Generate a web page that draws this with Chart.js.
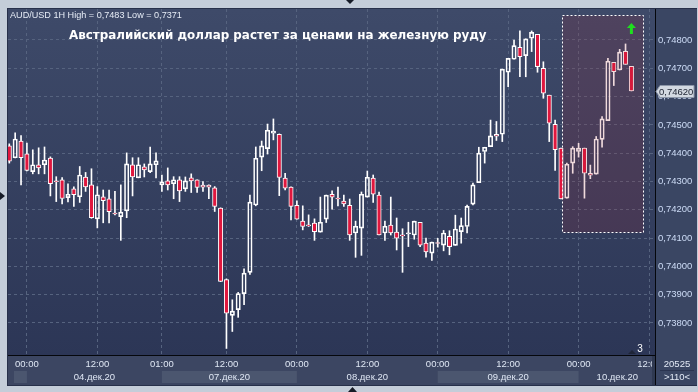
<!DOCTYPE html>
<html>
<head>
<meta charset="utf-8">
<script src="https://cdn.jsdelivr.net/npm/chart.js@4.4.0/dist/chart.umd.min.js"></script>
<style>
  html, body { margin: 0; padding: 0; background: #c4cdd9; }
  canvas { display: block; }
</style>
</head>
<body>
<canvas id="chartCanvas" width="698" height="392"></canvas>
<script>
// AUD/USD, 1H candles, 03.12 21:00 .. 10.12 09:00
const opens = [
  0.74426, 0.74384, 0.74443, 0.74398, 0.74335, 0.74359, 0.74359, 0.74383, 0.74301, 0.74306,
  0.74243, 0.74274, 0.74246, 0.74316, 0.74288, 0.74168, 0.74246, 0.74239, 0.74187, 0.74176,
  0.74196, 0.74359, 0.74313, 0.74352, 0.74335, 0.74359, 0.74288, 0.74302, 0.74292, 0.74306,
  0.74274, 0.74313, 0.74306, 0.74287, 0.74287, 0.74278, 0.74206, 0.73953, 0.73827, 0.73847,
  0.73904, 0.73979, 0.74217, 0.74386, 0.74416, 0.74471, 0.74467, 0.74312, 0.74280, 0.74216,
  0.74160, 0.74144, 0.74153, 0.74121, 0.74167, 0.74255, 0.74239, 0.74231, 0.74216, 0.74118,
  0.74135, 0.74245, 0.74312, 0.74252, 0.74118, 0.74146, 0.74121, 0.74110, 0.74115, 0.74111,
  0.74156, 0.74082, 0.74047, 0.74083, 0.74075, 0.74106, 0.74074, 0.74123, 0.74141, 0.74220,
  0.74296, 0.74406, 0.74423, 0.74467, 0.74467, 0.74686, 0.74732, 0.74774, 0.74745, 0.74806,
  0.74820, 0.74700, 0.74605, 0.74502, 0.74418, 0.74241, 0.74365, 0.74406, 0.74418, 0.74329,
  0.74326, 0.74449, 0.74515, 0.74721, 0.74694, 0.74760, 0.74707
];
const highs = [
  0.74433, 0.74472, 0.74462, 0.74436, 0.74412, 0.74419, 0.74422, 0.74387, 0.74317, 0.74314,
  0.74292, 0.74281, 0.74353, 0.74332, 0.74345, 0.74282, 0.74270, 0.74270, 0.74265, 0.74288,
  0.74401, 0.74384, 0.74384, 0.74362, 0.74422, 0.74401, 0.74323, 0.74348, 0.74317, 0.74317,
  0.74316, 0.74327, 0.74306, 0.74300, 0.74288, 0.74282, 0.74207, 0.73956, 0.73882, 0.73908,
  0.73991, 0.74252, 0.74422, 0.74443, 0.74503, 0.74521, 0.74468, 0.74329, 0.74281, 0.74232,
  0.74214, 0.74182, 0.74168, 0.74245, 0.74252, 0.74267, 0.74280, 0.74252, 0.74238, 0.74160,
  0.74263, 0.74337, 0.74323, 0.74263, 0.74160, 0.74245, 0.74171, 0.74133, 0.74156, 0.74160,
  0.74156, 0.74100, 0.74086, 0.74099, 0.74127, 0.74126, 0.74181, 0.74171, 0.74217, 0.74294,
  0.74421, 0.74421, 0.74517, 0.74512, 0.74697, 0.74735, 0.74800, 0.74832, 0.74804, 0.74832,
  0.74820, 0.74723, 0.74605, 0.74517, 0.74418, 0.74365, 0.74423, 0.74435, 0.74418, 0.74358,
  0.74459, 0.74529, 0.74735, 0.74721, 0.74767, 0.74786, 0.74707
];
const lows = [
  0.74365, 0.74383, 0.74288, 0.74337, 0.74327, 0.74327, 0.74327, 0.74249, 0.74229, 0.74221,
  0.74228, 0.74212, 0.74226, 0.74265, 0.74170, 0.74136, 0.74154, 0.74154, 0.74182, 0.74092,
  0.74172, 0.74249, 0.74313, 0.74316, 0.74331, 0.74313, 0.74265, 0.74270, 0.74239, 0.74229,
  0.74265, 0.74261, 0.74261, 0.74265, 0.74239, 0.74194, 0.73946, 0.73710, 0.73770, 0.73820,
  0.73865, 0.73972, 0.74214, 0.74338, 0.74397, 0.74447, 0.74250, 0.74270, 0.74164, 0.74167,
  0.74129, 0.74141, 0.74092, 0.74121, 0.74155, 0.74202, 0.74214, 0.74212, 0.74092, 0.74032,
  0.74039, 0.74245, 0.74226, 0.74111, 0.74092, 0.74111, 0.74058, 0.73979, 0.74070, 0.74096,
  0.74070, 0.74033, 0.74021, 0.74068, 0.74055, 0.74041, 0.74074, 0.74082, 0.74118, 0.74217,
  0.74296, 0.74365, 0.74423, 0.74445, 0.74441, 0.74635, 0.74732, 0.74670, 0.74670, 0.74759,
  0.74686, 0.74594, 0.74441, 0.74339, 0.74238, 0.74241, 0.74329, 0.74386, 0.74241, 0.74310,
  0.74326, 0.74421, 0.74515, 0.74639, 0.74694, 0.74714, 0.74620
];
const closes = [
  0.74372, 0.74450, 0.74384, 0.74339, 0.74359, 0.74348, 0.74376, 0.74292, 0.74299, 0.74240,
  0.74255, 0.74253, 0.74323, 0.74281, 0.74172, 0.74253, 0.74232, 0.74193, 0.74185, 0.74192,
  0.74362, 0.74316, 0.74359, 0.74341, 0.74362, 0.74373, 0.74299, 0.74288, 0.74306, 0.74267,
  0.74302, 0.74302, 0.74279, 0.74280, 0.74280, 0.74212, 0.73947, 0.73835, 0.73842, 0.73904,
  0.73976, 0.74227, 0.74382, 0.74426, 0.74481, 0.74478, 0.74314, 0.74276, 0.74212, 0.74167,
  0.74141, 0.74143, 0.74123, 0.74156, 0.74252, 0.74245, 0.74238, 0.74221, 0.74111, 0.74142,
  0.74255, 0.74315, 0.74255, 0.74111, 0.74142, 0.74118, 0.74100, 0.74108, 0.74119, 0.74160,
  0.74075, 0.74051, 0.74086, 0.74081, 0.74118, 0.74070, 0.74132, 0.74144, 0.74212, 0.74288,
  0.74400, 0.74421, 0.74461, 0.74460, 0.74697, 0.74735, 0.74780, 0.74741, 0.74804, 0.74827,
  0.74706, 0.74612, 0.74506, 0.74412, 0.74238, 0.74361, 0.74418, 0.74418, 0.74329, 0.74322,
  0.74450, 0.74521, 0.74725, 0.74688, 0.74757, 0.74714, 0.74620
];

// axis labels (x values are bar numbers, 1 = first visible hour)
const timeSlots = [4, 16, 27, 38, 50, 62, 74, 86, 98, 110];
const timeLabels = ['00:00', '12:00', '01:00', '12:00', '00:00', '12:00', '00:00', '12:00', '00:00', '12:00'];
const dayStartSlots = [0, 4, 27, 50, 74, 98];
const dayLabels = ['03.дек.20', '04.дек.20', '07.дек.20', '08.дек.20', '09.дек.20', '10.дек.20'];
const priceTicks = [0.738, 0.739, 0.740, 0.741, 0.742, 0.743, 0.744, 0.745, 0.746, 0.747, 0.748];

const infoText = 'AUD/USD 1H High = 0,7483 Low = 0,7371';
const titleText = 'Австралийский доллар растет за ценами на железную руду';
const barsCount = '20525';
const zoomText = '>110<';

// marked zone on the right and the signal arrow
const zone = { fromSlot: 95.1, toSlot: 109.05, top: 0.74887, bottom: 0.74121 };
const arrowMark = { slot: 107, price: 0.7486 };

const RED = '#e0173e';
const GRID = '#56637f';
const FONT = '"Liberation Sans", Arial, sans-serif';

Chart.defaults.font.family = FONT;

const fmt = (v) => v.toFixed(5).replace('.', ',');

function fitFont(ctx, text, weight, family, width) {
  ctx.font = weight + ' 20px ' + family;
  const w = ctx.measureText(text).width;
  return weight + ' ' + (20 * width / w).toFixed(2) + 'px ' + family;
}

const bodies = opens.map((o, i) => ({ x: i + 1, y: [o, closes[i]] }));
const upperWicks = opens.map((o, i) => ({ x: i + 1, y: [Math.max(o, closes[i]), highs[i]] }));
const lowerWicks = opens.map((o, i) => ({ x: i + 1, y: [lows[i], Math.min(o, closes[i])] }));

const framePlugin = {
  id: 'frame',
  beforeDraw(chart) {
    const { ctx, chartArea: a, scales: { x } } = chart;
    const W = chart.width;
    ctx.save();
    ctx.fillStyle = '#c4cdd9';
    ctx.fillRect(0, 0, W, chart.height);
    ctx.fillStyle = '#27304a';
    ctx.fillRect(7, 8, W - 8, 378);

    const g = ctx.createLinearGradient(0, a.top, 0, a.bottom);
    g.addColorStop(0, '#3e4a69');
    g.addColorStop(1, '#2c3656');
    ctx.fillStyle = g;
    ctx.fillRect(a.left, a.top, a.right - a.left, a.bottom - a.top);

    ctx.fillStyle = '#3a4663';
    ctx.fillRect(a.right, a.top, W - 1 - a.right, a.bottom - a.top);

    // time axis panel with day bands
    ctx.fillStyle = '#3c4662';
    ctx.fillRect(a.left, a.bottom, a.right - a.left, 385 - a.bottom);
    for (let i = 0; i < dayStartSlots.length; i++) {
      const x0 = i === 0 ? a.left + 6 : x.getPixelForValue(dayStartSlots[i]);
      const x1 = i + 1 < dayStartSlots.length ? x.getPixelForValue(dayStartSlots[i + 1]) : a.right;
      if (i % 2 === 0) {
        ctx.fillStyle = '#4b566f';
        ctx.fillRect(x0, 371, x1 - x0, 12);
      }
      if (i > 0) {
        ctx.fillStyle = '#dfe7f4';
        ctx.font = '9.5px ' + FONT;
        ctx.textAlign = 'center';
        ctx.textBaseline = 'middle';
        ctx.fillText(dayLabels[i], (x0 + x1) / 2, 377);
      }
    }
    ctx.restore();
  },
  afterDatasetsDraw(chart) {
    const { ctx, chartArea: a, scales: { x, y } } = chart;
    ctx.save();
    const x0 = Math.round(x.getPixelForValue(zone.fromSlot)) + 0.5;
    const x1 = Math.round(x.getPixelForValue(zone.toSlot)) + 0.5;
    const y0 = Math.round(y.getPixelForValue(zone.top)) + 0.5;
    const y1 = Math.round(y.getPixelForValue(zone.bottom)) + 0.5;
    ctx.fillStyle = 'rgba(165, 35, 45, 0.17)';
    ctx.fillRect(x0, y0, x1 - x0, y1 - y0);
    ctx.strokeStyle = '#ffffff';
    ctx.lineWidth = 1;
    ctx.setLineDash([2, 2]);
    ctx.strokeRect(x0, y0, x1 - x0, y1 - y0);
    ctx.setLineDash([]);

    // green arrow
    const ax = x.getPixelForValue(arrowMark.slot);
    const ay = y.getPixelForValue(arrowMark.price);
    ctx.fillStyle = '#1fe01f';
    ctx.beginPath();
    ctx.moveTo(ax, ay);
    ctx.lineTo(ax + 4.5, ay + 5);
    ctx.lineTo(ax + 1.5, ay + 5);
    ctx.lineTo(ax + 1.5, ay + 11);
    ctx.lineTo(ax - 1.5, ay + 11);
    ctx.lineTo(ax - 1.5, ay + 5);
    ctx.lineTo(ax - 4.5, ay + 5);
    ctx.closePath();
    ctx.fill();

    // black axis lines
    ctx.fillStyle = '#05070c';
    ctx.fillRect(a.left, a.bottom, a.right - a.left, 1);
    ctx.fillRect(a.right - 1, a.top, 1, 385 - a.top);
    ctx.restore();
  },
  afterDraw(chart) {
    const { ctx, chartArea: a, scales: { x, y } } = chart;
    const W = chart.width;
    ctx.save();
    // corner panel hides the clipped last time label
    ctx.fillStyle = '#2f3951';
    ctx.fillRect(a.right - 4, a.bottom + 1, 3, 384 - a.bottom);
    ctx.fillStyle = '#3a4663';
    ctx.fillRect(a.right, a.bottom, W - 1 - a.right, 385 - a.bottom);
    ctx.fillStyle = '#05070c';
    ctx.fillRect(a.right - 1, a.bottom, 1, 385 - a.bottom);
    ctx.fillStyle = '#2a3450';
    ctx.fillRect(a.right + 4, 370, W - a.right - 8, 1);
    ctx.fillStyle = '#e3eaf6';
    ctx.font = '9.5px ' + FONT;
    ctx.textAlign = 'center';
    ctx.textBaseline = 'middle';
    const cx = (a.right + W) / 2;
    ctx.fillText(barsCount, cx, 364);
    ctx.fillText(zoomText, cx, 377.5);

    // last price marker
    const last = closes[closes.length - 1];
    const py = Math.round(y.getPixelForValue(last)) + 0.5;
    ctx.beginPath();
    ctx.moveTo(a.right, py);
    ctx.lineTo(a.right + 4, py - 6);
    ctx.lineTo(W - 4, py - 6);
    ctx.lineTo(W - 4, py + 6);
    ctx.lineTo(a.right + 4, py + 6);
    ctx.closePath();
    ctx.fillStyle = '#d3d9e2';
    ctx.fill();
    ctx.strokeStyle = '#8c96a8';
    ctx.lineWidth = 1;
    ctx.stroke();
    ctx.fillStyle = '#1b2130';
    ctx.textAlign = 'left';
    ctx.fillText(fmt(last), a.right + 3, py + 0.5);

    // bar counter near the bottom
    ctx.fillStyle = '#1e2538';
    ctx.beginPath();
    ctx.moveTo(a.right - 28, a.bottom - 1);
    ctx.lineTo(a.right - 24, a.bottom - 5);
    ctx.lineTo(a.right - 20, a.bottom - 1);
    ctx.closePath();
    ctx.fill();
    ctx.fillStyle = '#ffffff';
    ctx.textAlign = 'center';
    ctx.font = '10px ' + FONT;
    ctx.fillText('3', a.right - 16, a.bottom - 6);

    // texts
    ctx.textAlign = 'left';
    ctx.fillStyle = '#e6ecf6';
    ctx.font = fitFont(ctx, infoText, 'normal', FONT, 172);
    ctx.fillText(infoText, 10, 15.5);
    ctx.fillStyle = '#ffffff';
    ctx.font = fitFont(ctx, titleText, 'bold', '"DejaVu Sans", sans-serif', 418);
    ctx.fillText(titleText, 69, 36);

    // small scroll markers on the frame
    ctx.fillStyle = '#161b27';
    ctx.beginPath();
    ctx.moveTo(0, 192); ctx.lineTo(5, 196); ctx.lineTo(0, 200); ctx.closePath();
    ctx.moveTo(346, 0); ctx.lineTo(354, 0); ctx.lineTo(350, 4); ctx.closePath();
    ctx.moveTo(348, 392); ctx.lineTo(357, 392); ctx.lineTo(352.5, 387); ctx.closePath();
    ctx.fill();
    ctx.restore();
  }
};

const chart = new Chart(document.getElementById('chartCanvas'), {
  type: 'bar',
  data: {
    datasets: [
      {
        label: 'body',
        data: bodies,
        backgroundColor: (c) => (closes[c.dataIndex] < opens[c.dataIndex] ? RED : 'rgba(0,0,0,0)'),
        borderColor: '#ffffff',
        borderWidth: 1,
        borderSkipped: false,
        barThickness: 4.4,
        minBarLength: 1,
        grouped: false
      },
      {
        label: 'upper',
        data: upperWicks,
        backgroundColor: '#ffffff',
        barThickness: 1,
        grouped: false
      },
      {
        label: 'lower',
        data: lowerWicks,
        backgroundColor: '#ffffff',
        barThickness: 1,
        grouped: false
      }
    ]
  },
  options: {
    responsive: false,
    animation: false,
    devicePixelRatio: 1,
    layout: { padding: { left: 8, top: 9, right: 0, bottom: 0 }, autoPadding: false },
    plugins: { legend: { display: false }, tooltip: { enabled: false } },
    scales: {
      x: {
        type: 'linear',
        min: 0.7785,
        max: 111.19,
        offset: false,
        grid: { offset: false, color: GRID, drawTicks: false },
        border: { display: false, dash: [3, 3] },
        afterBuildTicks: (s) => { s.ticks = timeSlots.map((v) => ({ value: v })); },
        afterFit: (s) => { s.height = 37; },
        ticks: {
          autoSkip: false,
          maxRotation: 0,
          padding: 4,
          color: '#dfe7f4',
          font: { size: 9.5 },
          callback: (v) => timeLabels[timeSlots.indexOf(v)]
        }
      },
      y: {
        position: 'right',
        min: 0.736869,
        max: 0.749095,
        grid: { color: GRID, drawTicks: false },
        border: { display: false, dash: [3, 3] },
        afterBuildTicks: (s) => { s.ticks = priceTicks.map((v) => ({ value: v })); },
        afterFit: (s) => { s.width = 42; },
        ticks: {
          padding: 2,
          color: '#cddcf6',
          font: { size: 9.5 },
          callback: (v) => fmt(v)
        }
      }
    }
  },
  plugins: [framePlugin]
});
</script>
</body>
</html>
